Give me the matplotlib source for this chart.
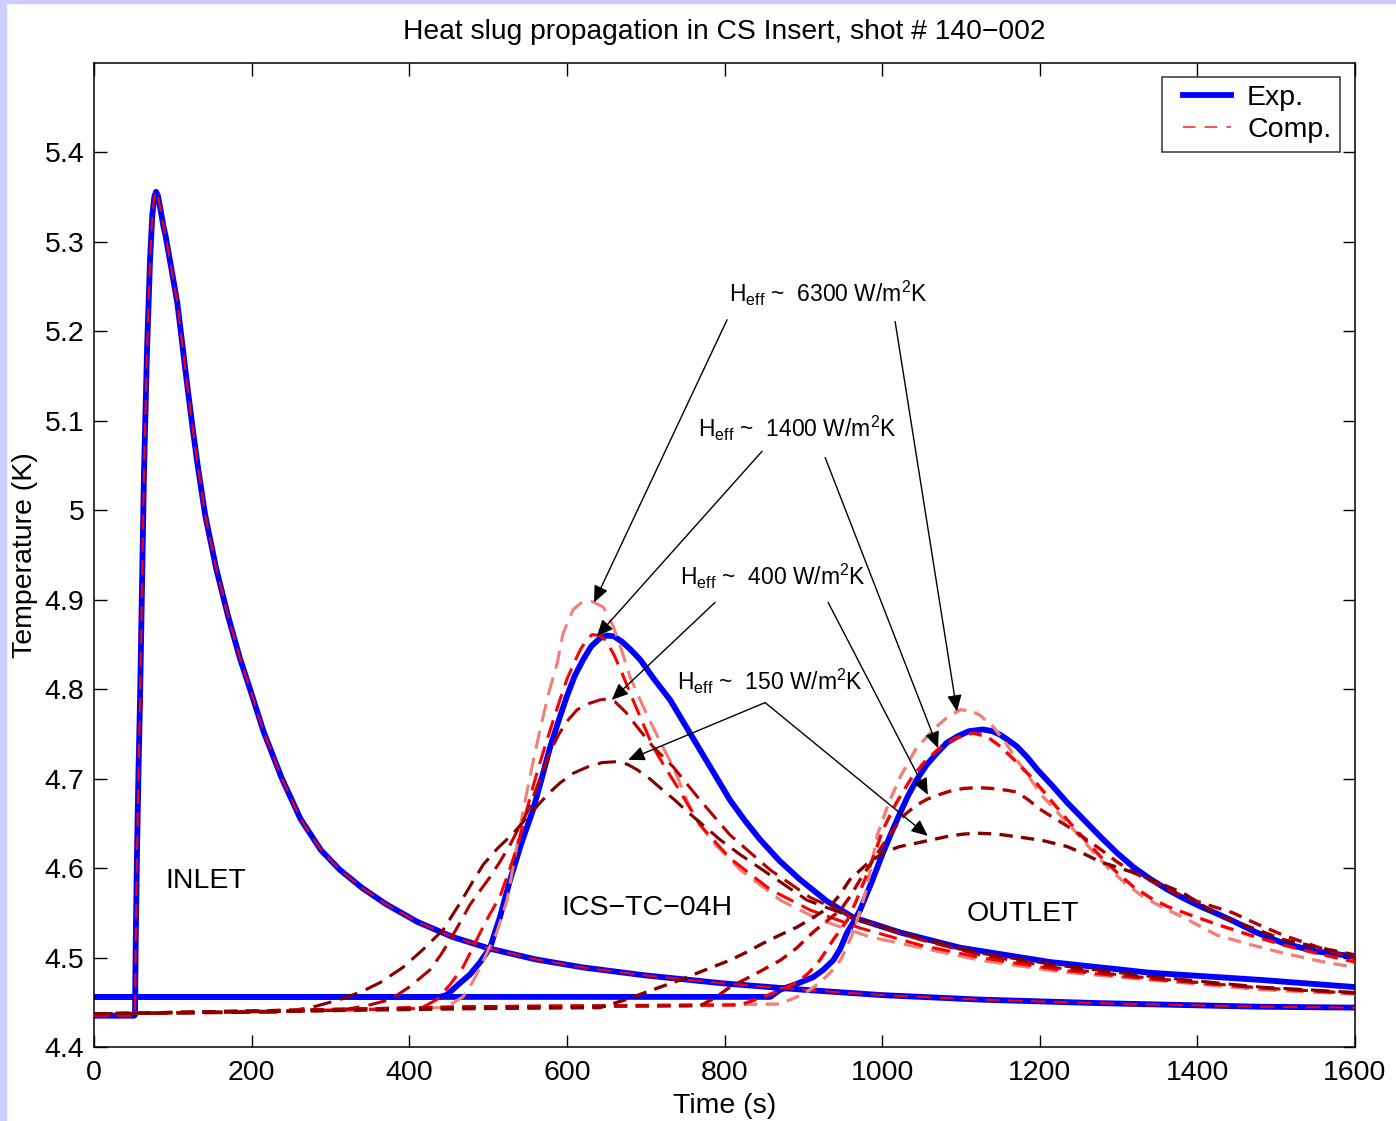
import matplotlib
matplotlib.use("Agg")
import matplotlib.pyplot as plt
from matplotlib.lines import Line2D
from matplotlib.patches import Rectangle
from matplotlib.legend_handler import HandlerLine2D

plt.rcParams['font.family'] = ['Liberation Sans', 'DejaVu Sans']
plt.rcParams['mathtext.fontset'] = 'custom'
plt.rcParams['mathtext.rm'] = 'Liberation Sans'
plt.rcParams['mathtext.it'] = 'Liberation Sans:italic'

# ---------------- measured temperatures (experiment) ----------------
inlet_t = [0, 30, 51, 52, 53, 54.6, 56.5, 58.4, 61, 63.5, 67.3, 71.1, 74, 76.5,
           78.7, 81, 84, 88, 91, 98, 105.7, 112, 118.4, 125, 131.1, 141, 155,
           170, 185, 198, 215, 238, 262, 288, 312, 340, 370, 410, 455, 502, 560,
           620, 700, 800, 900, 1000, 1124, 1277, 1480, 1600]
inlet_T = [4.435, 4.435, 4.435, 4.436, 4.520, 4.620, 4.710, 4.788, 4.920, 5.045,
           5.180, 5.280, 5.330, 5.350, 5.356, 5.352, 5.338, 5.318, 5.306, 5.271,
           5.232, 5.186, 5.139, 5.093, 5.053, 4.995, 4.935, 4.882, 4.835, 4.800,
           4.753, 4.701, 4.655, 4.620, 4.598, 4.578, 4.560, 4.540, 4.523, 4.510,
           4.498, 4.489, 4.480, 4.471, 4.464, 4.458, 4.453, 4.449, 4.445, 4.444]

tc_t = [0, 439, 447, 455, 465, 477, 490, 502.5, 515, 528, 542, 557, 568, 579,
        590, 600, 610, 620.6, 631, 642, 651, 660, 670, 680, 693, 710, 731, 750,
        769, 788, 807, 826, 845, 870, 896, 930, 963, 1023, 1099, 1213, 1340,
        1480, 1600]
tc_T = [4.456, 4.456, 4.458, 4.464, 4.472, 4.481, 4.495, 4.511, 4.545, 4.587,
        4.627, 4.665, 4.700, 4.736, 4.766, 4.792, 4.815, 4.833, 4.848, 4.857,
        4.860, 4.859, 4.853, 4.845, 4.833, 4.812, 4.788, 4.760, 4.732, 4.704,
        4.676, 4.653, 4.632, 4.608, 4.587, 4.563, 4.545, 4.528, 4.511, 4.495,
        4.483, 4.475, 4.467]

out_t = [0, 858, 870.6, 890, 912.4, 925, 938, 947, 955.6, 964, 972, 987, 1001,
         1012, 1023, 1033, 1044, 1057, 1070, 1082, 1095, 1110, 1128, 1140, 1150,
         1160, 1171, 1184, 1197, 1216, 1235, 1256, 1277, 1298, 1319, 1340, 1362,
         1383, 1404, 1425, 1445, 1475, 1509, 1550, 1600]
out_T = [4.456, 4.456, 4.464, 4.470, 4.478, 4.486, 4.497, 4.510, 4.528, 4.540,
         4.553, 4.585, 4.617, 4.640, 4.662, 4.681, 4.699, 4.716, 4.729, 4.740,
         4.747, 4.753, 4.755, 4.753, 4.749, 4.743, 4.736, 4.724, 4.710, 4.692,
         4.673, 4.654, 4.635, 4.617, 4.601, 4.588, 4.576, 4.566, 4.557, 4.549,
         4.541, 4.528, 4.516, 4.507, 4.501]

# ---------------- computed temperatures, ICS-TC-04H ----------------
tc_6300_t = [0, 250, 439, 455, 468, 480, 490, 500, 511, 524, 534, 544, 555, 566,
             577, 588, 595, 608, 620, 632, 646, 659, 670, 680, 695, 709, 722, 735,
             756, 782, 820, 871, 921, 985, 1048, 1124, 1226, 1340, 1480, 1600]
tc_6300_T = [4.437, 4.441, 4.444, 4.449, 4.456, 4.472, 4.489, 4.508, 4.528, 4.564,
             4.612, 4.662, 4.710, 4.755, 4.796, 4.830, 4.862, 4.889, 4.898, 4.898,
             4.892, 4.870, 4.842, 4.814, 4.784, 4.758, 4.735, 4.713, 4.668, 4.632,
             4.598, 4.564, 4.542, 4.523, 4.511, 4.497, 4.484, 4.475, 4.464, 4.459]

tc_1400_t = [0, 250, 414, 435, 452, 468, 479, 490, 502, 515, 526, 537, 547, 557,
             568, 579, 590, 600, 610, 617, 625, 632, 642, 650, 660, 670, 680, 695,
             709, 725, 740, 769, 807, 858, 909, 972, 1048, 1124, 1226, 1340, 1480,
             1600]
tc_1400_T = [4.437, 4.440, 4.443, 4.453, 4.470, 4.489, 4.508, 4.528, 4.548, 4.568,
             4.595, 4.624, 4.658, 4.691, 4.724, 4.755, 4.785, 4.811, 4.831, 4.844,
             4.855, 4.861, 4.860, 4.854, 4.838, 4.818, 4.796, 4.765, 4.736, 4.712,
             4.691, 4.648, 4.611, 4.576, 4.553, 4.533, 4.514, 4.500, 4.486, 4.476,
             4.466, 4.460]

tc_400_t = [0, 250, 312, 345, 376, 400, 426, 440, 452, 465, 477, 490, 502.5, 515,
            528, 539, 549.5, 560, 570, 580, 590, 602, 613, 628, 642, 651, 661, 675,
            689, 709, 735, 769, 807, 858, 909, 972, 1048, 1124, 1226, 1340, 1480,
            1600]
tc_400_T = [4.437, 4.440, 4.441, 4.446, 4.453, 4.467, 4.486, 4.503, 4.520, 4.540,
            4.559, 4.575, 4.590, 4.607, 4.626, 4.645, 4.662, 4.686, 4.710, 4.732,
            4.750, 4.766, 4.777, 4.784, 4.788, 4.789, 4.786, 4.774, 4.758, 4.736,
            4.713, 4.676, 4.637, 4.598, 4.567, 4.542, 4.520, 4.503, 4.488, 4.477,
            4.466, 4.460]

tc_150_t = [0, 236, 275, 312, 340, 363, 392, 417.5, 443, 464.5, 480, 494, 512,
            532, 550, 566, 580, 591, 608, 626, 645, 664, 677, 689, 705, 722, 737,
            753, 773, 794, 820, 845, 875, 905, 972, 1048, 1124, 1226, 1340, 1480,
            1600]
tc_150_T = [4.437, 4.439, 4.444, 4.453, 4.462, 4.472, 4.489, 4.509, 4.531, 4.561,
            4.584, 4.604, 4.622, 4.639, 4.657, 4.673, 4.686, 4.695, 4.706, 4.713,
            4.718, 4.719, 4.716, 4.710, 4.700, 4.687, 4.676, 4.663, 4.648, 4.632,
            4.615, 4.600, 4.582, 4.564, 4.542, 4.522, 4.505, 4.491, 4.479, 4.467,
            4.461]

# ---------------- computed temperatures, OUTLET ----------------
out_6300_t = [0, 490, 870, 892, 907, 921, 935, 947, 955, 963, 972, 980, 987, 994,
              1008, 1023, 1042, 1065, 1082, 1099, 1112, 1124, 1141, 1156, 1171,
              1187, 1204, 1225, 1247, 1268, 1289, 1310, 1331, 1356, 1382, 1425,
              1465, 1509, 1555, 1600]
out_6300_T = [4.437, 4.445, 4.448, 4.456, 4.463, 4.472, 4.484, 4.497, 4.511, 4.528,
              4.552, 4.576, 4.606, 4.637, 4.672, 4.702, 4.732, 4.755, 4.768, 4.777,
              4.776, 4.771, 4.758, 4.741, 4.721, 4.701, 4.680, 4.660, 4.639, 4.618,
              4.598, 4.582, 4.568, 4.556, 4.545, 4.525, 4.515, 4.505, 4.496, 4.489]

out_1400_t = [0, 490, 820, 849, 870, 892, 907, 921, 938, 956, 967, 978, 990, 1001,
              1018, 1036, 1052, 1070, 1092, 1115, 1133, 1150, 1170, 1192, 1213,
              1235, 1256, 1277, 1298, 1319, 1340, 1362, 1393, 1425, 1467, 1509,
              1555, 1600]
out_1400_T = [4.437, 4.445, 4.447, 4.456, 4.463, 4.472, 4.483, 4.497, 4.520, 4.542,
              4.563, 4.587, 4.615, 4.643, 4.673, 4.699, 4.717, 4.732, 4.745, 4.751,
              4.747, 4.736, 4.719, 4.699, 4.677, 4.654, 4.633, 4.613, 4.595, 4.579,
              4.567, 4.557, 4.547, 4.537, 4.525, 4.514, 4.504, 4.495]

out_400_t = [0, 490, 769, 788, 807, 840, 871, 892, 912, 930, 947, 960, 972, 987,
             1001, 1015, 1029, 1043, 1057, 1072, 1086, 1103, 1121, 1140, 1158,
             1171, 1186, 1200, 1218, 1235, 1256, 1277, 1298, 1319, 1350, 1382,
             1413, 1445, 1477, 1509, 1555, 1600]
out_400_T = [4.437, 4.445, 4.446, 4.455, 4.467, 4.482, 4.497, 4.511, 4.528, 4.541,
             4.553, 4.569, 4.587, 4.607, 4.626, 4.644, 4.660, 4.670, 4.677, 4.682,
             4.686, 4.689, 4.690, 4.689, 4.687, 4.685, 4.676, 4.666, 4.656, 4.647,
             4.634, 4.621, 4.607, 4.595, 4.582, 4.568, 4.559, 4.550, 4.537, 4.525,
             4.511, 4.499]

out_150_t = [0, 490, 642, 675, 709, 744, 775, 807, 828, 849, 870, 892, 913, 934,
             947, 959, 980, 1001, 1022, 1044, 1065, 1086, 1103, 1121, 1146, 1171,
             1203, 1235, 1256, 1277, 1298, 1319, 1350, 1382, 1404, 1425, 1467,
             1509, 1555, 1600]
out_150_T = [4.437, 4.443, 4.444, 4.453, 4.464, 4.475, 4.486, 4.497, 4.506, 4.516,
             4.525, 4.534, 4.545, 4.557, 4.571, 4.587, 4.604, 4.617, 4.624, 4.628,
             4.632, 4.636, 4.638, 4.639, 4.638, 4.635, 4.631, 4.624, 4.616, 4.607,
             4.601, 4.595, 4.584, 4.572, 4.560, 4.548, 4.534, 4.520, 4.511, 4.503]

# heat transfer coefficients of the computed runs and their colours
h_labels = ['6300', '1400', '400', '150']
h_colors = ['#F28078', '#FF0000', '#B40000', '#800000']

FS = 20.5

# ---------------- figure ----------------
fig = plt.figure(figsize=(13.96, 11.21), dpi=100)
fig.patches.append(Rectangle((0, 0), 6 / 1396, 1, transform=fig.transFigure,
                             color='#CCCCFF', zorder=-10))
fig.patches.append(Rectangle((0, 1 - 3 / 1121), 1, 3 / 1121,
                             transform=fig.transFigure, color='#CCCCFF', zorder=-10))

ax = fig.add_axes([94 / 1396, 74 / 1121, 1261 / 1396, 984 / 1121])

exp_kw = dict(color='#0000FF', lw=4.2, solid_capstyle='round',
              solid_joinstyle='round', zorder=2)
ax.plot(inlet_t, inlet_T, **exp_kw)
ax.plot(tc_t, tc_T, **exp_kw)
ax.plot(out_t, out_T, **exp_kw)

ax.plot(inlet_t, inlet_T, color='#FF0000', lw=1.5, dashes=(7, 4), zorder=3)

tc_runs = [(tc_6300_t, tc_6300_T), (tc_1400_t, tc_1400_T),
           (tc_400_t, tc_400_T), (tc_150_t, tc_150_T)]
out_runs = [(out_6300_t, out_6300_T), (out_1400_t, out_1400_T),
            (out_400_t, out_400_T), (out_150_t, out_150_T)]
for (t, T), c in zip(tc_runs, h_colors):
    ax.plot(t, T, color=c, lw=2.2, dashes=(6, 3), zorder=3)
for (t, T), c in zip(out_runs, h_colors):
    ax.plot(t, T, color=c, lw=2.4, dashes=(4, 2.5), zorder=3)

ax.set_xlim(0, 1600)
ax.set_ylim(4.4, 5.5)
ax.set_xticks([0, 200, 400, 600, 800, 1000, 1200, 1400, 1600])
ax.set_yticks([4.4, 4.5, 4.6, 4.7, 4.8, 4.9, 5.0, 5.1, 5.2, 5.3, 5.4])
ax.set_yticklabels(['4.4', '4.5', '4.6', '4.7', '4.8', '4.9', '5', '5.1', '5.2',
                    '5.3', '5.4'])
ax.tick_params(direction='in', length=9, width=1, labelsize=FS,
               top=True, right=True)
ax.tick_params(axis='x', pad=9.5)
ax.tick_params(axis='y', pad=7)
for s in ax.spines.values():
    s.set_linewidth(1.1)

ax.set_xlabel('Time (s)', fontsize=FS, labelpad=5)
ax.set_ylabel('Temperature (K)', fontsize=FS, labelpad=5)
ax.set_title('Heat slug propagation in CS Insert, shot # 140\u2212002',
             fontsize=20.3, pad=17)

# sensor names
ax.text(90, 4.586, 'INLET', fontsize=FS, va='center', ha='left')
ax.text(593, 4.555, 'ICS\u2212TC\u221204H', fontsize=FS, va='center', ha='left')
ax.text(1107, 4.549, 'OUTLET', fontsize=FS, va='center', ha='left')

# Heff labels and arrows pointing at the matching computed curves
label_pos = [(806, 5.233), (766.5, 5.082), (744, 4.916), (740, 4.799)]
arrow_pairs = [
    [((803.3, 5.213), (634.5, 4.897)), ((1016.5, 5.211), (1095, 4.775))],
    [((847.7, 5.066), (638, 4.859)), ((927.7, 5.059), (1071, 4.734))],
    [((788, 4.897), (657, 4.788)), ((931.5, 4.897), (1058, 4.682))],
    [((851.5, 4.785), (677.7, 4.721)), ((851.5, 4.785), (1058, 4.636))],
]
for h, (lx, ly), arrows in zip(h_labels, label_pos, arrow_pairs):
    ax.text(lx, ly, r'H$_{\mathrm{eff}}$ ~  ' + h + r' W/m$^{2}$K',
            fontsize=16.5, va='baseline', ha='left', zorder=5)
    for start, tip in arrows:
        ax.annotate('', xy=tip, xytext=start,
                    arrowprops=dict(arrowstyle='-|>,head_length=0.5,head_width=0.22',
                                    mutation_scale=20, color='black', lw=1.0,
                                    shrinkA=0, shrinkB=0),
                    zorder=6)

handles = [Line2D([], [], color='#0000FF', lw=4.2),
           Line2D([], [], color='#F04848', lw=1.3, dashes=(7, 5))]
leg = ax.legend(handles, ['Exp.', 'Comp.'], loc='upper right',
                bbox_to_anchor=(0.988, 0.986), fontsize=FS, frameon=True,
                fancybox=False, edgecolor='black', handlelength=2.15,
                handletextpad=0.55, borderpad=0.3, labelspacing=0.2,
                borderaxespad=0,
                handler_map={Line2D: HandlerLine2D(xpad=0.45)})
leg.get_frame().set_linewidth(1.1)

fig.savefig('out.png', dpi=100)
